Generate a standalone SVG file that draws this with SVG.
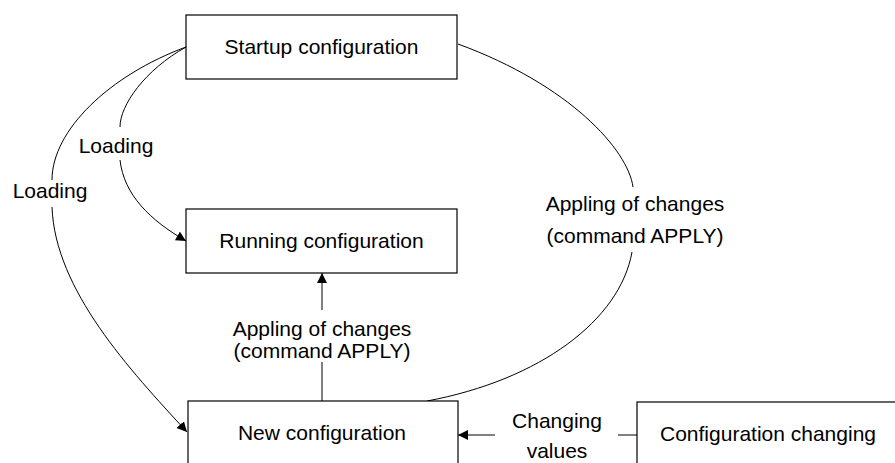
<svg xmlns="http://www.w3.org/2000/svg" width="895" height="463" viewBox="0 0 895 463">
<style>
.box{fill:#fff;stroke:#000;stroke-width:1.2}
.t{font-family:"Liberation Sans",Arial,sans-serif;font-size:21px;fill:#000;text-anchor:middle}
.c{fill:none;stroke:#000;stroke-width:1}
</style>
<defs>
<marker id="ah" viewBox="0 0 10 10" refX="10" refY="5" markerWidth="10" markerHeight="10" markerUnits="userSpaceOnUse" orient="auto">
<path d="M0,0 L10,5 L0,10 Z" fill="#000"/>
</marker>
</defs>
<rect width="895" height="463" fill="#fff"/>
<g id="connectors">
<path class="c" d="M186,47 C145,70 120,105 120,127"/>
<path class="c" d="M120,160 C124,195 150,220 186,241" marker-end="url(#ah)"/>
<path class="c" d="M186,47 C110,75 52,130 52,180"/>
<path class="c" d="M52,207 C55,290 130,370 187,432" marker-end="url(#ah)"/>
<path class="c" d="M458,44 C570,85 628,150 633,187"/>
<path class="c" d="M632,252 C620,320 540,380 427,401"/>
<line class="c" x1="322" y1="310" x2="322" y2="273" marker-end="url(#ah)"/>
<line class="c" x1="322" y1="362" x2="322" y2="401"/>
<line class="c" x1="495" y1="435" x2="458" y2="435" marker-end="url(#ah)"/>
<line class="c" x1="618" y1="435" x2="637" y2="435"/>
<text class="t" x="116" y="153">Loading</text>
<text class="t" x="50" y="198">Loading</text>
<text class="t" x="322" y="336">Appling of changes</text>
<text class="t" x="322" y="358">(command APPLY)</text>
<text class="t" x="635" y="211">Appling of changes</text>
<text class="t" x="635" y="243">(command APPLY)</text>
<text class="t" x="557" y="428">Changing</text>
<text class="t" x="557" y="458">values</text>
</g>
<g id="startup">
<rect class="box" x="186" y="15" width="271" height="64"/>
<text class="t" x="321.5" y="54">Startup configuration</text>
</g>
<g id="running">
<rect class="box" x="186" y="209" width="271" height="64"/>
<text class="t" x="321.5" y="248">Running configuration</text>
</g>
<g id="new">
<rect class="box" x="188" y="401" width="270" height="64"/>
<text class="t" x="322" y="440">New configuration</text>
</g>
<g id="changing">
<rect class="box" x="637" y="402" width="271" height="64"/>
<text class="t" x="768" y="441">Configuration changing</text>
</g>
</svg>
